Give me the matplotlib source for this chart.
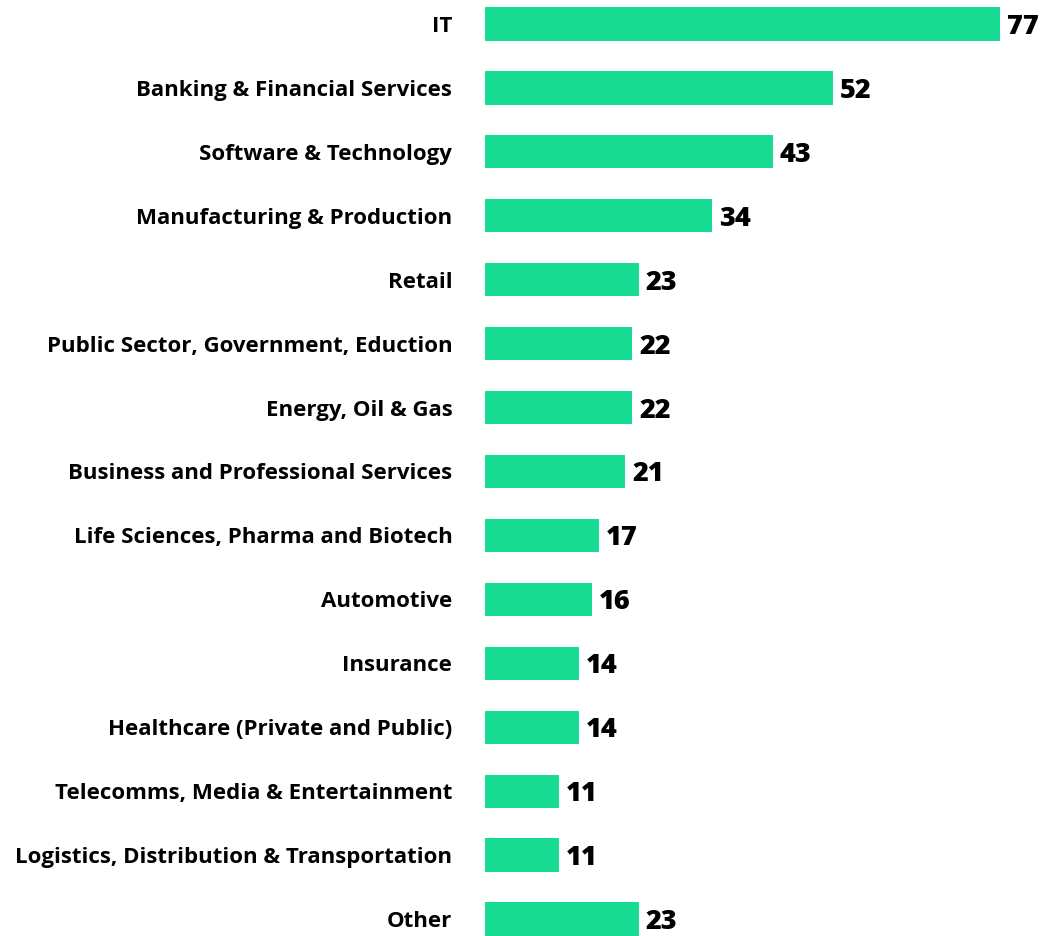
import matplotlib
matplotlib.use("Agg")
import matplotlib.pyplot as plt

categories = [
    "IT",
    "Banking & Financial Services",
    "Software & Technology",
    "Manufacturing & Production",
    "Retail",
    "Public Sector, Government, Eduction",
    "Energy, Oil & Gas",
    "Business and Professional Services",
    "Life Sciences, Pharma and Biotech",
    "Automotive",
    "Insurance",
    "Healthcare (Private and Public)",
    "Telecomms, Media & Entertainment",
    "Logistics, Distribution & Transportation",
    "Other",
]
values = [77, 52, 43, 34, 23, 22, 22, 21, 17, 16, 14, 14, 11, 11, 23]

bar_color = "#17DB93"
plt.rcParams["font.family"] = ["Open Sans", "DejaVu Sans"]

fig = plt.figure(figsize=(10.43, 9.36), dpi=100)
ax = fig.add_axes([485 / 1043, 0, 558 / 1043, 1])

y = list(range(len(categories)))
ax.barh(y, values, height=0.52, color=bar_color)

for yi, v in zip(y, values):
    ax.annotate(str(v), xy=(v, yi), xytext=(5, 0), textcoords="offset points",
                va="center_baseline", ha="left", fontsize=19.5, fontweight=800, color="black")

ax.set_xlim(0, 558 / 6.69)
ax.set_ylim(14 + 17 / 64, -24 / 64)
ax.set_yticks(y)
ax.set_yticklabels(categories, fontsize=16, fontweight="bold", va="center_baseline")
ax.tick_params(axis="y", length=0, pad=23.5)
ax.set_xticks([])
for s in ax.spines.values():
    s.set_visible(False)

fig.savefig("out.png", dpi=100)
